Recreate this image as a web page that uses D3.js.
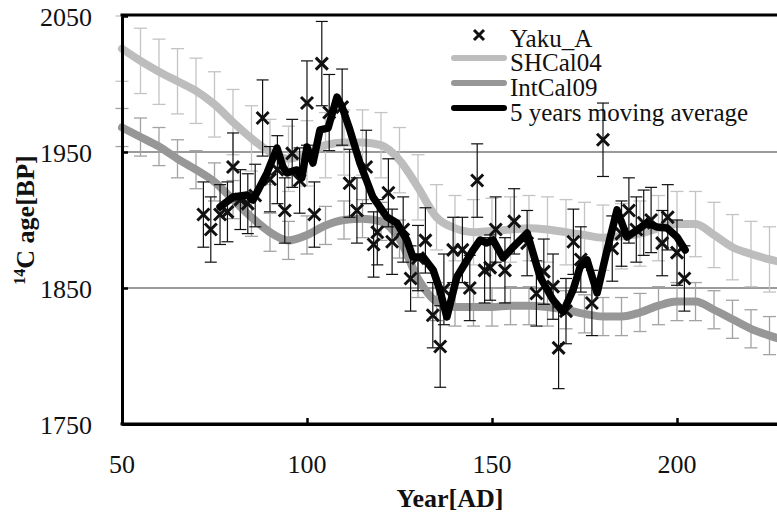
<!DOCTYPE html>
<html><head><meta charset="utf-8">
<script src="https://cdn.jsdelivr.net/npm/d3@7/dist/d3.min.js"></script>
<style>
html,body{margin:0;padding:0;background:#fff;}
svg{display:block;}
</style></head>
<body>
<svg id="chart" width="777" height="515"></svg>
<script>
// ---------- data ----------
const calYears = [50,55,60,65,70,75,80,85,90,95,100,105,110,115,120,125,130,135,140,145,150,155,160,165,170,175,180,185,190,195,200,205,210,215,220,225,230,235];
const shcal04 = [2026,2017,2009,2002,1995,1985,1972,1960,1950,1945,1949,1955,1957,1957,1955,1944,1924,1902,1894,1891,1892,1893,1894,1893,1891,1889,1887,1888,1890,1894,1897,1897,1889,1880,1875,1871,1868,1866];
const shcalErr = 24;
const intcal09 = [1968,1961,1954,1945,1937,1928,1915,1902,1891,1885,1889,1896,1900,1901,1899,1886,1857,1840,1836,1836,1836,1837,1837,1836,1834,1831,1829,1829,1832,1837,1840,1840,1834,1827,1820,1815,1811,1808];
const intcalErr = 14;

const yakuYears = [72,74,76.5,78.5,80,82,84,86,88,90,92,94,96,98,100,102,104,106,109.5,111.5,113.5,116,118,119,122,123,126,128,130,132,134,136,137,139.5,142,144,146,148,149.5,151,153.5,156,159.5,162,164,166.5,168,170,172,174,177,180,182.5,185,187,189,191,193,196,197.5,200,202];
const yakuAge   = [1904,1893,1904,1906,1939,1915,1912,1918,1975,1930,1937,1907,1949,1929,1986,1904,2015,1979,1983,1927,1907,1939,1882,1891,1920,1884,1893,1857,1872,1885,1830,1807,1849,1878,1878,1850,1929,1863,1865,1893,1863,1899,1883,1846,1862,1851,1806,1833,1884,1871,1839,1959,1879,1890,1907,1893,1898,1900,1883,1902,1876,1857];
const yakuErr   = [24,24,22,22,25,22,22,23,28,24,25,24,25,24,31,24,31,28,28,25,24,27,24,24,25,24,24,24,24,24,24,30,26,24,24,24,27,24,24,24,24,24,24,24,24,24,30,24,24,24,24,27,24,24,24,24,24,24,24,24,24,24];

const avgYears = [76.5,80,83.8,85.4,89.2,91.9,93.5,94.6,97.3,98.6,100,101.6,103.5,105.7,108.1,109.5,111.6,114.3,117.8,121.6,124.3,127,128.6,131.4,134.1,135.9,137.8,140.5,144.9,146.8,148.6,150.3,153,155.7,159.5,163,166.5,169.2,171.9,173.8,175.7,178.4,181.1,183.8,186.5,189.2,191.9,194.6,197.3,200,202.2];
const avgAge   = [1909.6,1916.9,1918.4,1914.7,1934.6,1952.9,1939,1934.6,1936.8,1930.9,1953.7,1941.9,1966.2,1967.6,1990.4,1983,1966.2,1941.9,1916.9,1902.2,1897.8,1885.3,1872.8,1872.8,1863.2,1848.5,1828.7,1858.1,1877.9,1885.3,1883.1,1885.3,1872.1,1880.1,1890.4,1858.1,1841.2,1832.4,1848.5,1865.4,1870.6,1846.3,1877.9,1907.4,1887.5,1892.6,1897.8,1894.9,1894.1,1887.5,1877.9];

const xTicks = [50,100,150,200];
const yTicks = [1750,1850,1950,2050];
const gridVals = [1850,1950];
const legendLabels = ["Yaku_A","SHCal04","IntCal09","5 years moving average"];

const FONT = "'Liberation Serif', 'Times New Roman', Times, 'DejaVu Serif', serif";

// ---------- scales ----------
const svg = d3.select("#chart");
const mLeft = 122, mTop = 16, mBottom = 424, mRightEnd = 862;
const x = d3.scaleLinear().domain([50,250]).range([mLeft, mRightEnd]);
const y = d3.scaleLinear().domain([1750,2050]).range([mBottom, mTop]);

const cLight = "#bdbdbd", cMid = "#979797";

// gridlines
svg.append("g").selectAll("line").data(gridVals).join("line")
  .attr("x1", mLeft).attr("x2", 777)
  .attr("y1", d => y(d)).attr("y2", d => y(d))
  .attr("stroke", "#9a9a9a").attr("stroke-width", 2.2);

// calibration error bars
function calBars(vals, err, color) {
  const g = svg.append("g").attr("stroke", color).attr("stroke-width", 1.3).attr("fill", "none");
  calYears.forEach((yr, i) => {
    const cx = x(yr), y1 = y(vals[i] + err), y2 = y(vals[i] - err);
    g.append("line").attr("x1", cx).attr("x2", cx).attr("y1", y1).attr("y2", y2);
    g.append("line").attr("x1", cx - 6.5).attr("x2", cx + 6.5).attr("y1", y1).attr("y2", y1);
    g.append("line").attr("x1", cx - 6.5).attr("x2", cx + 6.5).attr("y1", y2).attr("y2", y2);
  });
}
calBars(shcal04, shcalErr, "#c4c4c4");
calBars(intcal09, intcalErr, "#a3a3a3");

const smooth = d3.line().x(d => x(d[0])).y(d => y(d[1])).curve(d3.curveMonotoneX);
svg.append("path").datum(calYears.map((yr, i) => [yr, shcal04[i]]))
  .attr("d", smooth).attr("fill", "none").attr("stroke", cLight).attr("stroke-width", 8).attr("stroke-linecap", "round");
svg.append("path").datum(calYears.map((yr, i) => [yr, intcal09[i]]))
  .attr("d", smooth).attr("fill", "none").attr("stroke", cMid).attr("stroke-width", 8).attr("stroke-linecap", "round");

// Yaku error bars
const yb = svg.append("g").attr("stroke", "#111").attr("stroke-width", 1.2);
yakuYears.forEach((yr, i) => {
  const cx = x(yr), y1 = y(yakuAge[i] + yakuErr[i]), y2 = y(yakuAge[i] - yakuErr[i]);
  yb.append("line").attr("x1", cx).attr("x2", cx).attr("y1", y1).attr("y2", y2);
  yb.append("line").attr("x1", cx - 6).attr("x2", cx + 6).attr("y1", y1).attr("y2", y1);
  yb.append("line").attr("x1", cx - 6).attr("x2", cx + 6).attr("y1", y2).attr("y2", y2);
});

// markers
const crossPath = "M-6,-6L6,6M-6,6L6,-6";
svg.append("g").selectAll("path").data(yakuYears.map((yr, i) => [yr, yakuAge[i]])).join("path")
  .attr("transform", d => `translate(${x(d[0])},${y(d[1])})`)
  .attr("d", crossPath).attr("stroke", "#111").attr("stroke-width", 3).attr("fill", "none");

// moving average
svg.append("path").datum(avgYears.map((yr, i) => [yr, avgAge[i]]))
  .attr("d", d3.line().x(d => x(d[0])).y(d => y(d[1])))
  .attr("fill", "none").attr("stroke", "#000").attr("stroke-width", 7.5)
  .attr("stroke-linejoin", "round").attr("stroke-linecap", "round");

// axes
const xAxis = svg.append("g").attr("transform", `translate(0,${mBottom})`)
  .call(d3.axisBottom(x).tickValues(xTicks).tickSizeInner(-6).tickSizeOuter(0).tickPadding(0).tickFormat(""));
xAxis.select(".domain").attr("stroke", "#000").attr("stroke-width", 3);
xAxis.selectAll(".tick line").attr("stroke", "#000").attr("stroke-width", 2.5);
svg.append("line").attr("x1", mLeft - 1.5).attr("x2", 777).attr("y1", mBottom).attr("y2", mBottom).attr("stroke", "#000").attr("stroke-width", 3);
svg.append("line").attr("x1", mLeft - 1.5).attr("x2", 777).attr("y1", mTop - 1).attr("y2", mTop - 1).attr("stroke", "#000").attr("stroke-width", 3);

const yAxis = svg.append("g").attr("transform", `translate(${mLeft},0)`)
  .call(d3.axisLeft(y).tickValues(yTicks).tickSizeInner(-6).tickSizeOuter(0).tickFormat(""));
yAxis.select(".domain").attr("stroke", "#000").attr("stroke-width", 3);
yAxis.selectAll(".tick line").attr("stroke", "#000").attr("stroke-width", 2.5);

// tick labels
svg.append("g").selectAll("text").data(xTicks).join("text")
  .attr("x", d => x(d)).attr("y", 473).attr("text-anchor", "middle")
  .attr("font-family", FONT).attr("font-size", 26).attr("fill", "#111").text(d => d);
svg.append("g").selectAll("text").data(yTicks).join("text")
  .attr("x", 92).attr("y", d => y(d) + 10).attr("text-anchor", "end")
  .attr("font-family", FONT).attr("font-size", 26).attr("fill", "#111").text(d => d);

// axis titles
svg.append("text").attr("x", 450).attr("y", 507).attr("text-anchor", "middle")
  .attr("font-family", FONT).attr("font-size", 26).attr("font-weight", "bold").attr("fill", "#111").text("Year[AD]");
const yt = svg.append("text").attr("transform", "translate(34,220) rotate(-90)").attr("text-anchor", "middle")
  .attr("font-family", FONT).attr("font-size", 26).attr("font-weight", "bold").attr("fill", "#111");
yt.append("tspan").attr("font-size", 16).attr("dy", -9).text("14");
yt.append("tspan").attr("dy", 9).text("C age[BP]");

// legend
const lg = svg.append("g");
lg.append("path").attr("transform", "translate(479,35)").attr("d", "M-5,-5L5,5M-5,5L5,-5")
  .attr("stroke", "#111").attr("stroke-width", 3);
const legColors = [null, cLight, cMid, "#000"];
const legY = [35, 58, 83, 108];
[1,2,3].forEach(i => {
  lg.append("line").attr("x1", 454).attr("x2", 504).attr("y1", legY[i]).attr("y2", legY[i])
    .attr("stroke", legColors[i]).attr("stroke-width", 6).attr("stroke-linecap", "round");
});
const legTextY = [47, 71, 96, 121];
legendLabels.forEach((t, i) => {
  lg.append("text").attr("x", 510).attr("y", legTextY[i]).attr("font-family", FONT)
    .attr("font-size", 25).attr("fill", "#111").text(t);
});
</script>
</body></html>
